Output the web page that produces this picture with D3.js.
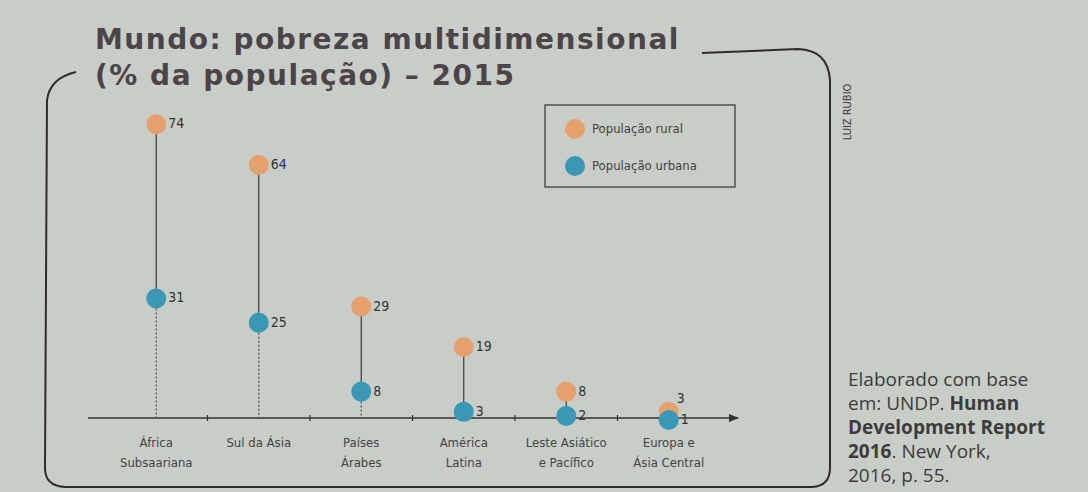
<!DOCTYPE html>
<html lang="pt">

<head>
    <meta charset="UTF-8">
    <title>Mundo: pobreza multidimensional</title>
    <style>
        body {
            margin: 0;
            background: #c9cdc7;
        }

        .title {
            font-family: "DejaVu Sans", sans-serif;
            font-weight: 700;
            font-size: 28px;
            letter-spacing: 1.5px;
            fill: #4b4448;
        }

        .frame {
            fill: none;
            stroke: #2e2c2d;
            stroke-width: 2px;
        }

        .stem {
            stroke: #3a3a3a;
            stroke-width: 1.2px;
        }

        .drop {
            stroke: #4a4a4a;
            stroke-width: 1.2px;
            stroke-dasharray: 2, 2;
        }

        .value {
            font-family: "DejaVu Sans Condensed", "Liberation Sans Narrow", sans-serif;
            font-size: 14px;
            fill: #333;
            dominant-baseline: middle;
        }

        .cat {
            font-family: "DejaVu Sans Condensed", "Liberation Sans Narrow", sans-serif;
            font-size: 13px;
            fill: #444;
            text-anchor: middle;
        }

        .legend-text {
            font-family: "DejaVu Sans Condensed", "Liberation Sans Narrow", sans-serif;
            font-size: 13px;
            fill: #444;
            dominant-baseline: middle;
        }

        .source {
            font-family: "Open Sans", sans-serif;
            font-size: 19px;
            fill: #3c3c3c;
        }

        .credit {
            font-family: "DejaVu Sans Condensed", sans-serif;
            font-size: 11px;
            fill: #3c3c3c;
            text-anchor: middle;
            dominant-baseline: middle;
        }
    </style>
</head>

<body>
    <script src="https://d3js.org/d3.v7.min.js"></script>
    <script>
        const regions = [
            ['África', 'Subsaariana'],
            ['Sul da Ásia'],
            ['Países', 'Árabes'],
            ['América', 'Latina'],
            ['Leste Asiático', 'e Pacífico'],
            ['Europa e', 'Ásia Central']
        ];
        const rural = [74, 64, 29, 19, 8, 3];
        const urban = [31, 25, 8, 3, 2, 1];
        const dropLines = [true, true, true, false, false, false];
        const titleLines = ['Mundo: pobreza multidimensional', '(% da população) – 2015'];

        const width = 1088;
        const height = 492;
        const orange = '#e5a06c';
        const blue = '#3a97b6';
        const r = 10;

        const svg = d3.select('body')
            .append('svg')
            .attr('width', width)
            .attr('height', height);

        const xScale = d3.scaleBand()
            .domain(d3.range(regions.length))
            .range([105, 720]);
        const yScale = d3.scaleLinear()
            .domain([0, 80])
            .range([424, 100]);

        // frame
        svg.append('path')
            .attr('class', 'frame')
            .attr('d', 'M76,72 Q50,78 47,100 L45,468 Q45,486 65,487 L812,487 Q830,486 830,468 L830,80 Q828,50 798,49 L702,53');

        // title
        titleLines.forEach((t, i) => {
            svg.append('text')
                .attr('class', 'title')
                .attr('x', 95)
                .attr('y', 49 + i * 36)
                .text(t);
        });

        // credit
        svg.append('text')
            .attr('class', 'credit')
            .attr('transform', 'translate(848, 112) rotate(-90)')
            .text('LUIZ RUBIO');

        // axis
        const axisY = 418;
        svg.append('defs').append('marker')
            .attr('id', 'arrow')
            .attr('viewBox', '0 0 10 10')
            .attr('refX', 9)
            .attr('refY', 5)
            .attr('markerWidth', 7)
            .attr('markerHeight', 7)
            .attr('orient', 'auto')
            .append('path')
            .attr('d', 'M0,1 L10,5 L0,9 Z')
            .attr('fill', '#333');

        svg.append('line')
            .attr('x1', 88)
            .attr('x2', 738)
            .attr('y1', axisY)
            .attr('y2', axisY)
            .attr('stroke', '#333')
            .attr('stroke-width', 1.5)
            .attr('marker-end', 'url(#arrow)');

        const tickPos = d3.range(1, regions.length).map(i => xScale(i));
        svg.selectAll('.tick')
            .data(tickPos)
            .enter().append('line')
            .attr('x1', d => d)
            .attr('x2', d => d)
            .attr('y1', axisY - 3)
            .attr('y2', axisY + 3)
            .attr('stroke', '#333')
            .attr('stroke-width', 1.2);

        const cx = i => xScale(i) + xScale.bandwidth() / 2;

        // category labels
        const cats = svg.selectAll('.cat')
            .data(regions)
            .enter().append('text')
            .attr('class', 'cat');
        cats.each(function (lines, i) {
            lines.forEach((t, j) => {
                d3.select(this).append('tspan')
                    .attr('x', cx(i))
                    .attr('y', 447 + j * 20)
                    .text(t);
            });
        });

        const idx = d3.range(regions.length);

        // dotted drops from urban to axis
        svg.selectAll('.drop')
            .data(idx.filter(i => dropLines[i]))
            .enter().append('line')
            .attr('class', 'drop')
            .attr('x1', cx)
            .attr('x2', cx)
            .attr('y1', i => yScale(urban[i]) + r)
            .attr('y2', axisY);

        // stems between rural and urban
        svg.selectAll('.stem')
            .data(idx)
            .enter().append('line')
            .attr('class', 'stem')
            .attr('x1', cx)
            .attr('x2', cx)
            .attr('y1', i => yScale(rural[i]))
            .attr('y2', i => yScale(urban[i]));

        svg.selectAll('.rural')
            .data(idx)
            .enter().append('circle')
            .attr('class', 'rural')
            .attr('cx', cx)
            .attr('cy', i => yScale(rural[i]))
            .attr('r', r)
            .attr('fill', orange);

        svg.selectAll('.urban')
            .data(idx)
            .enter().append('circle')
            .attr('class', 'urban')
            .attr('cx', cx)
            .attr('cy', i => yScale(urban[i]))
            .attr('r', r)
            .attr('fill', blue);

        // value labels (last region's rural label sits above, as in the original)
        svg.selectAll('.rural-label')
            .data(idx)
            .enter().append('text')
            .attr('class', 'value')
            .attr('x', i => cx(i) + (i === 5 ? 8 : r + 2))
            .attr('y', i => yScale(rural[i]) - (i === 5 ? 13 : 0))
            .text(i => rural[i]);

        svg.selectAll('.urban-label')
            .data(idx)
            .enter().append('text')
            .attr('class', 'value')
            .attr('x', i => cx(i) + r + 2)
            .attr('y', i => yScale(urban[i]))
            .text(i => urban[i]);

        // legend
        svg.append('rect')
            .attr('x', 545)
            .attr('y', 105)
            .attr('width', 190)
            .attr('height', 82)
            .attr('fill', 'none')
            .attr('stroke', '#333')
            .attr('stroke-width', 1.2);

        const legend = [
            { label: 'População rural', color: orange },
            { label: 'População urbana', color: blue }
        ];
        legend.forEach((d, i) => {
            svg.append('circle')
                .attr('cx', 575)
                .attr('cy', 129 + i * 37)
                .attr('r', r)
                .attr('fill', d.color);
            svg.append('text')
                .attr('class', 'legend-text')
                .attr('x', 592)
                .attr('y', 129 + i * 37)
                .text(d.label);
        });

        // source note
        const source = svg.append('text')
            .attr('class', 'source');
        const srcLines = [
            [['Elaborado com base', 400]],
            [['em: UNDP. ', 400], ['Human', 700]],
            [['Development Report', 700]],
            [['2016', 700], ['. New York,', 400]],
            [['2016, p. 55.', 400]]
        ];
        srcLines.forEach((parts, j) => {
            parts.forEach((p, k) => {
                const t = source.append('tspan')
                    .attr('font-weight', p[1])
                    .text(p[0]);
                if (k === 0) {
                    t.attr('x', 848).attr('y', 386 + j * 24);
                }
            });
        });
    </script>
</body>

</html>
